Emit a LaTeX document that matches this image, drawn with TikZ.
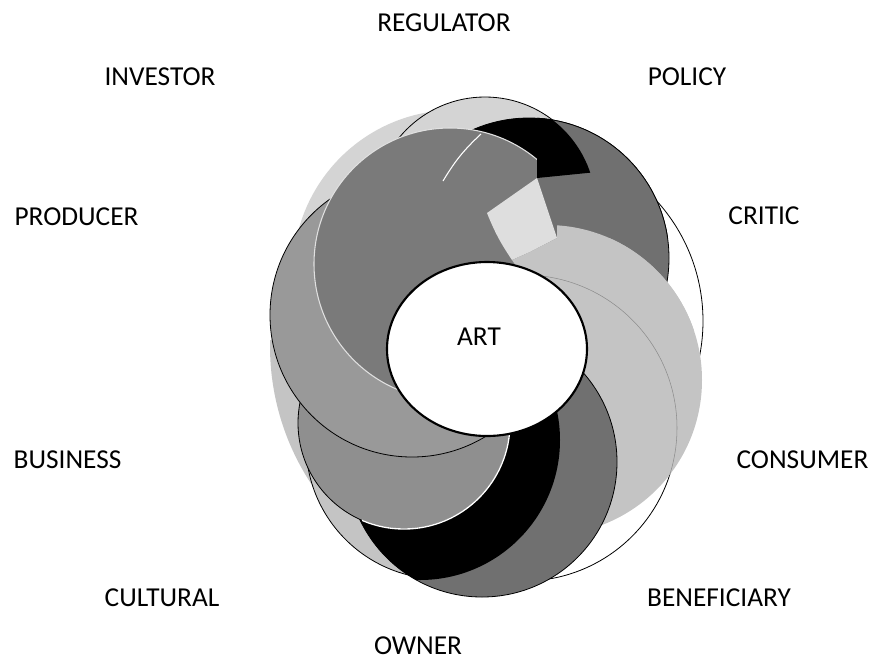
\documentclass[tikz,border=0pt]{standalone}
\usepackage{fontspec}
\setmainfont{Carlito}
\usetikzlibrary{shapes.geometric}

\begin{document}
\begin{tikzpicture}[x=0.75pt,y=-0.75pt,
        lbl/.style={font=\fontsize{20.5}{24}\selectfont,inner sep=0pt},
        rim/.style={draw=black,line width=0.6pt},
        pale/.style={fill=black!17},
        soft/.style={fill=black!23},
        mid/.style={fill=black!44},
        deep/.style={fill=black!56},
        artnode/.style={ellipse,draw,line width=1.6pt,fill=white,minimum width=150pt,minimum height=130.5pt,inner sep=0pt}]
    \useasboundingbox (0,0) rectangle (872,662);

    \coordinate (cC) at (524,321);
    \coordinate (cE) at (524,428);
    \coordinate (cI) at (521,346);
    \coordinate (cQ) at (455,272);
    \coordinate (cT) at (485,208);
    \coordinate (cP) at (529,258);
    \coordinate (cD) at (547,380);
    \coordinate (cG) at (441,444);
    \coordinate (cF) at (482,462);
    \coordinate (cB) at (420,440);
    \coordinate (cH) at (404,423);
    \coordinate (cK) at (412,315);
    \coordinate (cJ) at (450,264);
    \coordinate (w1) at (487,213);
    \coordinate (w2) at (537,178);
    \coordinate (w3) at (557,238);
    \coordinate (w4) at (530,252);
    \coordinate (w5) at (512,260);

    \draw[rim,fill=white] (cC) circle[radius=179];
    \draw[rim,fill=white] (cE) circle[radius=153];
    \begin{scope}
        \clip (0,340) rectangle (500,662);
        \fill[soft] (cI) circle[radius=251];
    \end{scope}
    \fill[pale] (cQ) circle[radius=162];
    \draw[rim,pale] (cT) circle[radius=111];
    \draw[rim,deep] (cP) circle[radius=140];
    \begin{scope}
        \clip (cP) circle[radius=140];
        \fill (cT) circle[radius=111];
    \end{scope}
    \fill[soft] (cD) circle[radius=155];
    \begin{scope}
        \clip (cD) circle[radius=155];
        \draw[black!45,line width=0.4pt] (cE) circle[radius=153];
    \end{scope}
    \draw[rim,soft] (cG) circle[radius=135];
    \draw[rim,deep] (cF) circle[radius=135];
    \begin{scope}
        \clip (cF) circle[radius=135];
        \fill (cB) circle[radius=140];
    \end{scope}
    \draw[rim,mid] (cH) circle[radius=106];
    \begin{scope}
        \clip (362,428) rectangle (560,600);
        \draw[white,line width=1pt] (cH) circle[radius=106];
    \end{scope}
    \draw[rim,fill=black!40] (cK) circle[radius=142];
    \draw[fill=black!52,draw=black!12,line width=0.8pt] (cJ) circle[radius=136];
    \draw[white,line width=0.8pt] (481,134) to[bend right=8] (443,181);

    \begin{scope}
        \clip (537,90) -- (w2) -- (w3) -- (720,238) -- (720,90) -- cycle;
        \draw[rim,deep] (cP) circle[radius=140];
        \clip (537,90) -- (640,90) -- (640,170) -- (597,172) -- (w2) -- cycle;
        \clip (cP) circle[radius=140];
        \fill (cT) circle[radius=111];
    \end{scope}
    \fill[black!13] (w1) -- (w2) -- (w3) -- (w4) -- (w5) to[bend left=6] cycle;
    \begin{scope}
        \clip (w5) -- (560,330) -- (720,330) -- (720,150) -- (557,150) -- (w3) -- (w4) -- cycle;
        \fill[soft] (cD) circle[radius=155];
        \clip (cD) circle[radius=155];
        \draw[black!45,line width=0.4pt] (cE) circle[radius=153];
    \end{scope}

    \node[artnode] (art) at (487,349) {};
    \node[lbl] (artlbl) at (479,337) {ART};

    \node[lbl] (regulator) at (444,22.5) {REGULATOR};
    \node[lbl] (investor) at (160,76.5) {INVESTOR};
    \node[lbl] (policy) at (687,76.5) {POLICY};
    \node[lbl] (producer) at (76.5,216.5) {PRODUCER};
    \node[lbl] (critic) at (764,216) {CRITIC};
    \node[lbl] (business) at (67.5,460) {BUSINESS};
    \node[lbl] (consumer) at (802.5,460) {CONSUMER};
    \node[lbl] (cultural) at (162,598) {CULTURAL};
    \node[lbl] (beneficiary) at (719,598) {BENEFICIARY};
    \node[lbl] (owner) at (418,646) {OWNER};
\end{tikzpicture}
\end{document}
